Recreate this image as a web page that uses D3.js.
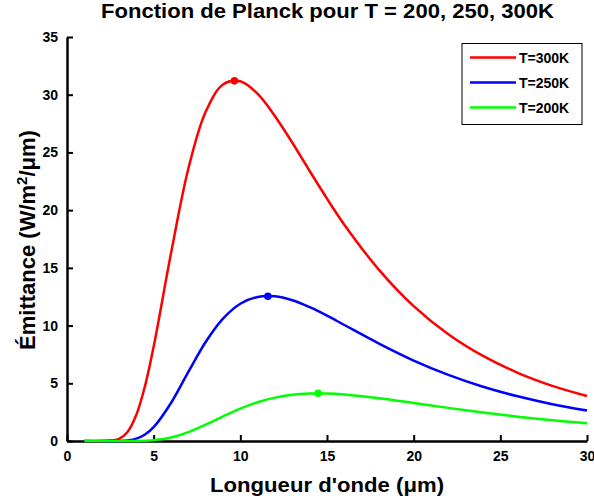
<!DOCTYPE html>
<html><head><meta charset="utf-8">
<script src="https://cdn.jsdelivr.net/npm/d3@7"></script>
<style>body{margin:0;background:#fff}svg{display:block}text{font-family:"Liberation Sans",Arial,sans-serif;font-weight:bold;fill:#000}</style>
</head><body><svg id="c" width="594" height="502"></svg>
<script>
const wavelengths = [1,2,3,3.5,4,4.5,5,6,7,8,9,10,11,12,13,14,15,16,18,20,22,24,26,28,30];
const t300 = [0,0.0004,0.175,0.80,2.27,4.77,8.18,16.26,23.59,28.52,30.88,31.17,30.07,28.14,25.84,23.39,21.00,18.74,14.83,11.69,9.25,7.37,5.91,4.78,3.90];
const t250 = [0,0,0.0072,0.052,0.206,0.566,1.20,3.29,5.98,8.58,10.60,11.89,12.48,12.53,12.19,11.59,10.86,10.05,8.44,6.97,5.73,4.70,3.87,3.19,2.65];
const t200 = [0,0,0,0.0005,0.0056,0.022,0.0675,0.299,0.766,1.42,2.14,2.81,3.36,3.76,4.00,4.105,4.105,4.025,3.71,3.295,2.87,2.47,2.11,1.80,1.54];
const seriesNames = ["T=300K","T=250K","T=200K"];
const seriesColors = ["#ff0000","#0000ff","#00ff00"];
const peakX = [9.66,11.59,14.49];
const peakY = [31.2,12.53,4.14];
const xTicks = [0,5,10,15,20,25,30];
const yTicks = [0,5,10,15,20,25,30,35];

const svg = d3.select("#c");
const m = {l:67,r:587,t:37,b:441};
const x = d3.scaleLinear().domain([0,30]).range([m.l,m.r]);
const y = d3.scaleLinear().domain([0,35]).range([m.b,m.t]);

const gx = svg.append("g").attr("transform",`translate(0,${m.b})`)
  .call(d3.axisBottom(x).tickValues(xTicks).tickSizeInner(-6).tickSizeOuter(0).tickPadding(10));
const gy = svg.append("g").attr("transform",`translate(${m.l},0)`)
  .call(d3.axisLeft(y).tickValues(yTicks).tickSizeInner(-6).tickSizeOuter(0).tickPadding(9));
[gx,gy].forEach(g=>{
  g.select(".domain").attr("stroke","#000").attr("stroke-width",2.5);
  g.selectAll(".tick line").attr("stroke","#000").attr("stroke-width",2);
  g.selectAll(".tick text").style("font-size","14px").style("font-weight","bold").attr("font-family",null);
});
gy.selectAll(".tick text").attr("dy","0.32em");

const series = [t300,t250,t200];
const line = d3.line().x(d=>x(d[0])).y(d=>y(Math.max(0,d[1]))).curve(d3.curveCatmullRom.alpha(0.5));
series.forEach((vals,i)=>{
  const pts = wavelengths.map((w,j)=>[w,vals[j]]);
  svg.append("path").datum(pts).attr("d",line).attr("fill","none")
    .attr("stroke",seriesColors[i]).attr("stroke-width",2.5);
});
series.forEach((vals,i)=>{
  svg.append("circle").attr("cx",x(peakX[i])).attr("cy",y(peakY[i])).attr("r",3.8).attr("fill",seriesColors[i]);
});

svg.append("text").attr("x",327.5).attr("y",17.5).attr("text-anchor","middle").style("font-size","19.5px")
  .attr("textLength",453).attr("lengthAdjust","spacingAndGlyphs")
  .text("Fonction de Planck pour T = 200, 250, 300K");
svg.append("text").attr("x",327).attr("y",492).attr("text-anchor","middle").style("font-size","20px")
  .attr("textLength",234).attr("lengthAdjust","spacingAndGlyphs")
  .text("Longueur d'onde (μm)");
const yl = svg.append("text").attr("transform","translate(35,240) rotate(-90)").attr("text-anchor","middle").style("font-size","22px");
yl.append("tspan").text("Émittance (W/m");
yl.append("tspan").attr("dy",-8).style("font-size","15px").text("2");
yl.append("tspan").attr("dy",8).text("/μm)");

const lg = svg.append("g");
lg.append("rect").attr("x",462).attr("y",43.5).attr("width",120).attr("height",81).attr("fill","#fff").attr("stroke","#000").attr("stroke-width",1);
seriesNames.forEach((n,i)=>{
  const yy = 57.5 + i*25;
  lg.append("line").attr("x1",470).attr("x2",516).attr("y1",yy).attr("y2",yy).attr("stroke",seriesColors[i]).attr("stroke-width",2.5);
  lg.append("text").attr("x",519).attr("y",yy+5).style("font-size","14px").text(n);
});
</script></body></html>
